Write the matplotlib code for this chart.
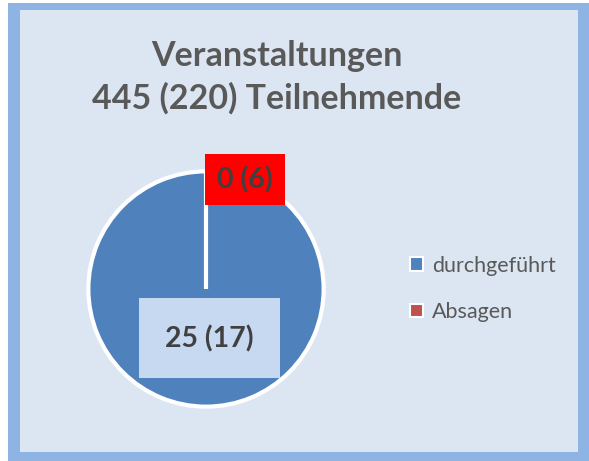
import matplotlib.pyplot as plt
from matplotlib.patches import Rectangle

# data
categories = ['durchgeführt', 'Absagen']
values = [25, 0]
prev_values = [17, 6]
title_lines = ['Veranstaltungen', '445 (220) Teilnehmende']
colors = ['#4F81BD', '#C0504D']
label_boxes = ['#C6D9F1', '#FF0000']

W, H = 589, 461
fig = plt.figure(figsize=(W / 100, H / 100), dpi=100)
fig.patch.set_facecolor('white')

# frame: blue border and light background
fig.patches.append(Rectangle((8 / W, 0), 581 / W, 458 / H, transform=fig.transFigure,
                             facecolor='#8EB4E3', edgecolor='none', zorder=-2))
fig.patches.append(Rectangle((20 / W, 9 / H), 558 / W, 442 / H, transform=fig.transFigure,
                             facecolor='#DCE6F2', edgecolor='none', zorder=-1))

fig.text(277 / W, 1 - 77 / H, title_lines[0] + '\n' + title_lines[1], ha='center', va='center',
         fontsize=24.5, fontweight='bold', color='#595959', family='Lato', linespacing=1.38)

# pie axes: center (206, 289) px, radius 120 px
cx, cy, r = 206, 289, 120
ax = fig.add_axes([(cx - r) / W, (H - cy - r) / H, 2 * r / W, 2 * r / H])
ax.set_facecolor('none')
ax.set_zorder(2)
wedges, _ = ax.pie(values, colors=colors, startangle=90, counterclock=False, radius=1,
                   wedgeprops=dict(edgecolor='white', linewidth=3))
ax.set_xlim(-1.02, 1.02)
ax.set_ylim(-1.02, 1.02)
ax.set_aspect('equal')
ax.axis('off')

label_pos = [(0.03, -0.42), (0.33, 0.93)]
label_pad = [0.93, 0.42]
for v, pv, pos, bc, pad in zip(values, prev_values, label_pos, label_boxes, label_pad):
    ax.text(pos[0], pos[1], f'{v} ({pv})', ha='center', va='center', fontsize=20.5,
            fontweight='bold', color='#404040', family='Lato',
            bbox=dict(boxstyle=f'square,pad={pad}', facecolor=bc, edgecolor='none'),
            clip_on=False, zorder=5)

leg = fig.legend(wedges, categories, loc='center left', bbox_to_anchor=(391 / W, 1 - 289 / H),
                 frameon=False, handlelength=0.6, handleheight=0.6,
                 handletextpad=0.4, labelspacing=1.22, labelcolor='#595959',
                 prop={'family': 'Lato', 'size': 15.5})
for h in leg.legend_handles:
    h.set_edgecolor('white')
    h.set_linewidth(1.5)

fig.savefig('out.png', dpi=100)
